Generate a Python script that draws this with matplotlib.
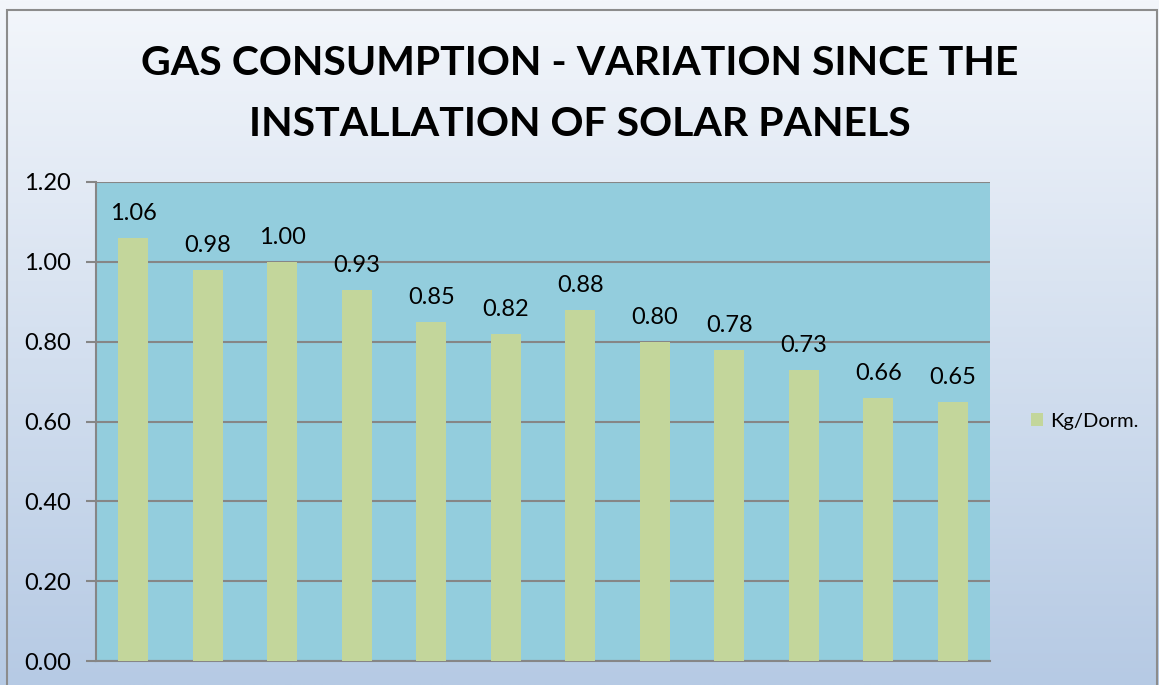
import matplotlib
matplotlib.use("Agg")
import matplotlib.pyplot as plt
import numpy as np
from matplotlib.patches import Rectangle

plt.rcParams["font.family"] = ["Lato", "DejaVu Sans"]

# data
periods = list(range(1, 13))
kg_per_dorm = [1.06, 0.98, 1.00, 0.93, 0.85, 0.82, 0.88, 0.80, 0.78, 0.73, 0.66, 0.65]
y_ticks = [0.0, 0.2, 0.4, 0.6, 0.8, 1.0, 1.2]
title = "GAS CONSUMPTION - VARIATION SINCE THE\nINSTALLATION OF SOLAR PANELS"
series_name = "Kg/Dorm."

W, H = 1159, 685
fig = plt.figure(figsize=(W / 100, H / 100), dpi=100)

# gradient background
bg = fig.add_axes([0, 0, 1, 1], zorder=0)
top = np.array([0xF3, 0xF6, 0xFB]) / 255
bot = np.array([0xB6, 0xCA, 0xE4]) / 255
t = np.linspace(0, 1, 256)[:, None]
grad = top[None, :] * (1 - t) + bot[None, :] * t
bg.imshow(grad[:, None, :].repeat(2, axis=1), aspect="auto", extent=[0, 1, 0, 1])
bg.add_patch(Rectangle((7 / W, -0.1), (1157 - 7) / W, 1.1 - 10 / H,
                       fill=False, edgecolor="#8c8c8c", linewidth=1.5))
bg.set_xlim(0, 1)
bg.set_ylim(0, 1)
bg.axis("off")

ax = fig.add_axes([96 / W, 24 / H, (990 - 96) / W, (661 - 182) / H], zorder=1)
ax.set_facecolor("#93CDDD")
x = np.arange(len(periods))
bars = ax.bar(x, kg_per_dorm, width=0.4, color="#C3D69B", zorder=3, label=series_name)
for xi, v in zip(x, kg_per_dorm):
    ax.text(xi, v + 0.035, f"{v:.2f}", ha="center", va="bottom", fontsize=17, color="black")

ax.set_xlim(-0.5, len(periods) - 0.5)
ax.set_ylim(0, 1.2)
ax.set_yticks(y_ticks)
ax.set_yticklabels([f"{v:.2f}" for v in y_ticks], fontsize=17)
ax.set_xticks([])
ax.grid(axis="y", color="#868686", linewidth=1.5, zorder=1)
ax.set_axisbelow(True)
for s in ["top", "right"]:
    ax.spines[s].set_visible(False)
for s in ["left", "bottom"]:
    ax.spines[s].set_color("#868686")
    ax.spines[s].set_linewidth(1.5)
ax.tick_params(axis="y", length=7, width=1.5, color="#868686", pad=11)

fig.text(0.5, 1 - 94 / H, title, ha="center", va="center", fontsize=29.5,
         fontweight="bold", linespacing=1.78)

fig.legend(handles=[bars], labels=[series_name], loc="center left",
           bbox_to_anchor=(1013 / W, 1 - 421 / H), frameon=False, fontsize=14.5,
           handlelength=0.6, handleheight=0.6, handletextpad=0.35)

fig.savefig("out.png", dpi=100)
